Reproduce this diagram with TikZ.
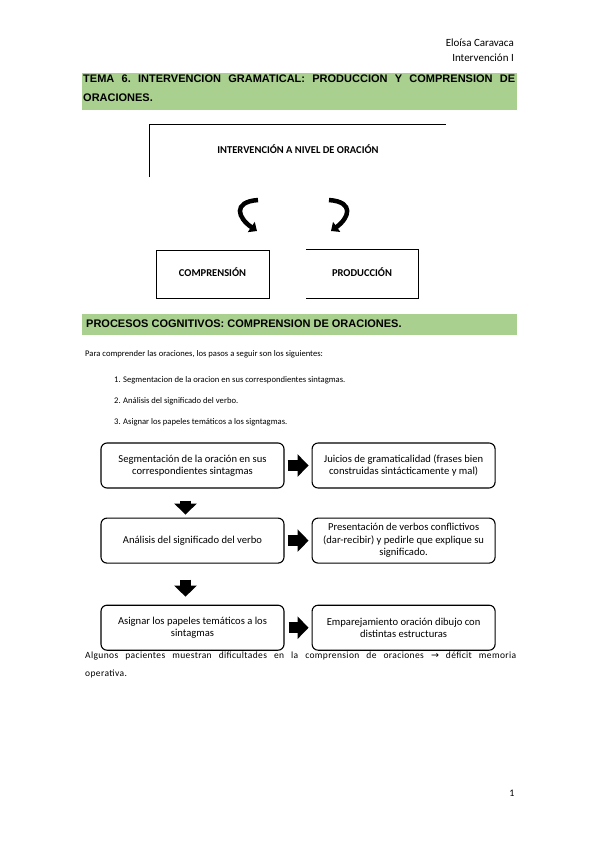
\documentclass[tikz,border=0pt]{standalone}
\usepackage{fontspec}
\setmainfont{Carlito}
\newfontfamily\headfont{Liberation Sans}
\newfontfamily\symfont{DejaVu Sans}
\newfontfamily\spacedfont[LetterSpace=4]{Carlito}
\usepackage{tikz}
\usetikzlibrary{arrows.meta, positioning}
\definecolor{headgreen}{RGB}{169,208,142}
\frenchspacing

\begin{document}
\begin{tikzpicture}[x=1pt, y=-1pt,
    node distance=29pt and 27pt,
    stepbox/.style={rectangle, draw, rounded corners=6pt, line width=1.1pt, minimum width=183pt, minimum height=45pt, align=center, inner sep=2pt, font=\fontsize{10.6}{12.5}\selectfont},
    blockarrow/.style={line width=11pt, -{Triangle[length=11pt, width=22pt]}},
    curvearrow/.style={line width=4.5pt, -{Triangle[length=7pt, width=12pt]}},
    bodytext/.style={anchor=west, inner sep=0pt, font=\fontsize{8.6}{10}\selectfont},
    headtext/.style={inner sep=0pt, font=\fontsize{11}{19}\headfont\bfseries},
    capbox/.style={minimum width=113pt, minimum height=48pt, inner sep=0pt, font=\fontsize{10.5}{12}\selectfont\bfseries},
]
\fill[white] (0,0) rectangle (599,848);
\useasboundingbox (0,0) rectangle (599,848);

% header
\node[anchor=east, inner sep=0pt, font=\fontsize{11}{12}\selectfont] (autora) at (514,43) {Eloísa Caravaca};
\node[anchor=east, inner sep=0pt, font=\fontsize{11}{12}\selectfont] (materia) at (514,58) {Intervención I};

% title bar
\fill[headgreen] (82,73) rectangle (517,110);
\node[headtext, anchor=north west, text width=432pt, align=justify] (tema) at (83,75)
  {TEMA 6. INTERVENCION GRAMATICAL: PRODUCCION Y COMPRENSION DE\linebreak ORACIONES.};

% intervencion a nivel de oracion
\node[capbox, minimum width=296pt, minimum height=52pt] (nivel) at (298,151) {\raisebox{4pt}{INTERVENCIÓN A NIVEL DE ORACIÓN}};
\draw[line width=0.8pt] (nivel.south west) -- (nivel.north west) -- (nivel.north east);

\node[capbox, draw, line width=0.8pt] (compr) at (212.5,274) {\raisebox{3pt}{COMPRENSIÓN}};
\node[capbox, minimum width=112pt] (produc) at (362,274) {\raisebox{3pt}{PRODUCCIÓN}};
\draw[line width=0.8pt] (produc.north west) -- (produc.north east) -- (produc.south east) -- (produc.south west);

\coordinate (curvl) at (258,200);
\coordinate (curvr) at (329,200);
\draw[curvearrow] (curvl) .. controls (232,202) and (238,218) .. (257,231);
\draw[curvearrow] (curvr) .. controls (355,202) and (349,218) .. (331,231);

% procesos cognitivos
\fill[headgreen] (82,314) rectangle (517,335);
\node[headtext, anchor=west] (procesos) at (86,324) {PROCESOS COGNITIVOS: COMPRENSION DE ORACIONES.};

\node[bodytext] (intro) at (85,354) {Para comprender las oraciones, los pasos a seguir son los siguientes:};
\node[bodytext] (num1) at (114,380) {1.};
\node[bodytext] (paso1) at (123,380) {Segmentacion de la oracion en sus correspondientes sintagmas.};
\node[bodytext] (num2) at (114,401) {2.};
\node[bodytext] (paso2) at (123,401) {Análisis del significado del verbo.};
\node[bodytext] (num3) at (114,422) {3.};
\node[bodytext] (paso3) at (123,422) {Asignar los papeles temáticos a los signtagmas.};

% flowchart
\node[stepbox] (segm) at (192.5,465.5) {Segmentación de la oración en sus\\correspondientes sintagmas};
\node[stepbox, right=of segm] (juicios) {Juicios de gramaticalidad (frases bien\\construidas sintácticamente y mal)};
\node[stepbox, below=of segm] (analisis) {Análisis del significado del verbo};
\node[stepbox, right=of analisis] (verbos) {Presentación de verbos conflictivos\\(dar-recibir) y pedirle que explique su\\significado.};
\node[stepbox, below=41pt of analisis] (asignar) {Asignar los papeles temáticos a los\\sintagmas};
\node[stepbox, right=of asignar] (empar) {Emparejamiento oración dibujo con\\distintas estructuras};

\draw[blockarrow, shorten <=3pt, shorten >=3pt] (segm) -- (juicios);
\draw[blockarrow, shorten <=3pt, shorten >=3pt] (analisis) -- (verbos);
\draw[blockarrow, shorten <=4pt, shorten >=3pt] (asignar) -- (empar);
\draw[blockarrow, shorten <=12pt, shorten >=3pt] ([xshift=-7pt]segm.south) -- ([xshift=-7pt]analisis.north);
\draw[blockarrow, shorten <=16pt, shorten >=8pt] ([xshift=-7pt]analisis.south) -- ([xshift=-7pt]asignar.north);

% nota final
\node[anchor=north west, inner sep=0pt, text width=431pt, align=justify, font=\fontsize{9.5}{18}\spacedfont] (nota) at (85,652)
  {Algunos pacientes muestran dificultades en la comprension de oraciones {\symfont →} déficit memoria\linebreak operativa.};

\node[inner sep=0pt, font=\fontsize{10}{12}\selectfont] (pagina) at (512,793) {1};

\end{tikzpicture}
\end{document}
